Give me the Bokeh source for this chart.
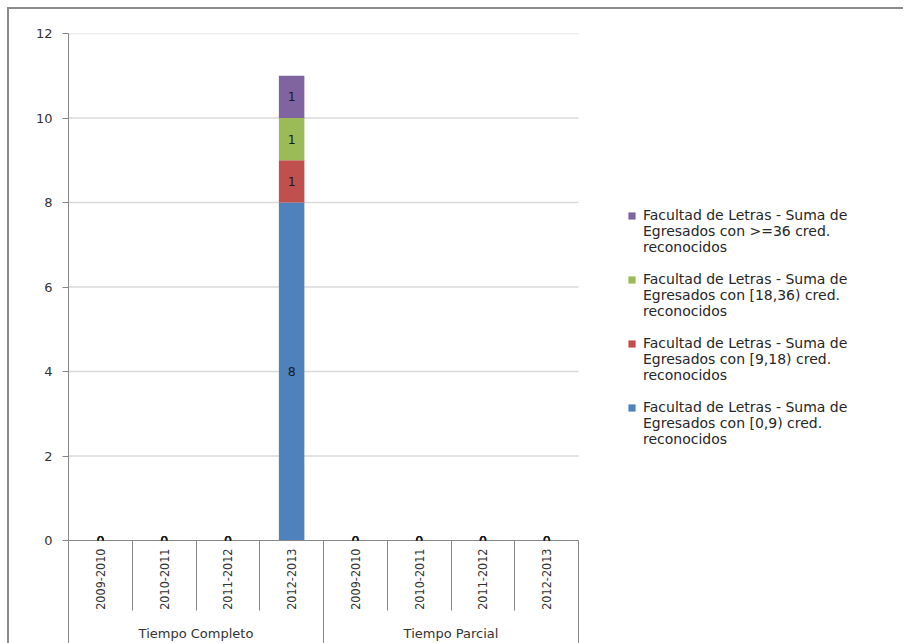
import math
from bokeh.plotting import figure
from bokeh.models import (ColumnDataSource, Range1d, LinearAxis, FixedTicker,
                          Legend, LegendItem, LabelSet)
from bokeh.core.properties import value
from bokeh.embed import file_html
from bokeh.resources import INLINE

groups = ["Tiempo Completo", "Tiempo Parcial"]
years = ["2009-2010", "2010-2011", "2011-2012", "2012-2013"]
s_0_9 = [0, 0, 0, 8, 0, 0, 0, 0]
s_9_18 = [0, 0, 0, 1, 0, 0, 0, 0]
s_18_36 = [0, 0, 0, 1, 0, 0, 0, 0]
s_36 = [0, 0, 0, 1, 0, 0, 0, 0]
series_lines = [
    ["Facultad de Letras - Suma de", "Egresados con [0,9) cred.", "reconocidos"],
    ["Facultad de Letras - Suma de", "Egresados con [9,18) cred.", "reconocidos"],
    ["Facultad de Letras - Suma de", "Egresados con [18,36) cred.", "reconocidos"],
    ["Facultad de Letras - Suma de", "Egresados con >=36 cred.", "reconocidos"],
]
y_ticks = [0, 2, 4, 6, 8, 10, 12]
colors = ["#4F81BD", "#C0504D", "#9BBB59", "#8064A2"]

factors = [(g, y) for g in groups for y in years]
n = len(factors)
m = len(years)
xpos = [i + 0.5 for i in range(n)]  # category centres on the category scale
series = [s_0_9, s_9_18, s_18_36, s_36]
keys = ["s0", "s1", "s2", "s3"]
data = {"x": xpos}
for k, s in zip(keys, series):
    data[k] = s
source = ColumnDataSource(data)

# data labels
lx, ly, lt = [], [], []
for i in range(n):
    cum = 0
    for s in series:
        v = s[i]
        lx.append(xpos[i])
        ly.append(cum + v / 2)
        lt.append(str(v))
        cum += v
label_src = ColumnDataSource(dict(x=lx, y=ly, t=lt))

GRAY = "#868686"
FONT = "DejaVu Sans"
PLOT_W = 510      # pixel width of the category area
FRAME_W = 830     # frame also hosts the legend on the right
FRAME_H = 507

p = figure(
    x_range=Range1d(0, n * FRAME_W / PLOT_W),
    y_range=Range1d(y_ticks[0], y_ticks[-1]),
    frame_width=FRAME_W, frame_height=FRAME_H,
    output_backend="svg", toolbar_location=None,
    x_axis_location=None,
    min_border_left=59, min_border_right=5, min_border_top=24, min_border_bottom=103,
)
p.margin = (7, 0, 0, 7)
p.styles = {"border-left": "2px solid #8a8a8a", "border-top": "2px solid #8a8a8a"}
p.outline_line_color = None
p.background_fill_color = "white"
p.border_fill_color = "white"

# horizontal gridlines limited to the category area
p.xgrid.visible = False
p.ygrid.visible = False
gt = y_ticks[1:]
p.segment(x0=[0] * len(gt), x1=[n] * len(gt), y0=gt, y1=gt,
          line_color="#d9d9d9", line_width=1.5)

rs = p.vbar_stack(keys, x="x", width=0.4, color=colors, source=source, line_color=None)
blank = p.vbar(x=[], top=[], width=0.4, fill_alpha=0, line_alpha=0)

yax = p.yaxis[0]
yax.ticker = FixedTicker(ticks=y_ticks)
yax.axis_line_color = GRAY
yax.major_tick_line_color = GRAY
yax.major_tick_out = 6
yax.major_tick_in = 0
yax.minor_tick_line_color = None
yax.major_label_text_font = FONT
yax.major_label_text_font_size = "13px"
yax.major_label_text_color = "#333333"
yax.major_label_standoff = 10

ax1 = LinearAxis(
    bounds=(0, n),
    ticker=FixedTicker(ticks=xpos, minor_ticks=list(range(n + 1))),
    major_label_overrides={xpos[i]: factors[i][1] for i in range(n)},
    major_label_orientation=math.pi / 2,
    major_tick_out=0, major_tick_in=0,
    minor_tick_out=70, minor_tick_in=0,
    minor_tick_line_color=GRAY, axis_line_color=GRAY,
    major_label_standoff=-62,
    major_label_text_font="'DejaVu Sans Condensed', 'Liberation Sans', sans-serif",
    major_label_text_font_size="12.5px",
    major_label_text_color="#333333",
)
p.add_layout(ax1, "below")

ax2 = LinearAxis(
    bounds=(0, n),
    ticker=FixedTicker(ticks=[g * m + m / 2 for g in range(len(groups))],
                       minor_ticks=[g * m for g in range(len(groups) + 1)]),
    major_label_overrides={g * m + m / 2: groups[g] for g in range(len(groups))},
    axis_line_color=None,
    major_tick_out=0, major_tick_in=0,
    minor_tick_out=60, minor_tick_in=12,
    minor_tick_line_color=GRAY,
    major_label_standoff=-47,
    major_label_text_font=FONT,
    major_label_text_font_size="13px",
    major_label_text_color="#333333",
)
p.add_layout(ax2, "below")

labels = LabelSet(x="x", y="y", text="t", source=label_src, level="overlay",
                  text_align="center", text_baseline="middle",
                  text_font=value(FONT), text_font_size=value("12.5px"),
                  text_color="#1a1a1a")
p.add_layout(labels)

items = []
order = list(reversed(range(len(series))))
for j, k in enumerate(order):
    lines = series_lines[k]
    items.append(LegendItem(label=lines[0], renderers=[rs[k]]))
    for ln in lines[1:]:
        items.append(LegendItem(label=ln, renderers=[blank]))
    if j < len(order) - 1:
        items.append(LegendItem(label=" ", renderers=[blank]))

legend = Legend(items=items, location=(PLOT_W + 49, 93), orientation="vertical",
                padding=0, margin=0, spacing=0, glyph_width=9, glyph_height=9,
                label_height=16, label_standoff=7,
                border_line_color=None, background_fill_alpha=0,
                label_text_font=FONT, label_text_font_size="14px",
                label_text_color="#262626")
p.add_layout(legend)

open("out.html", "w").write(file_html(p, INLINE))
